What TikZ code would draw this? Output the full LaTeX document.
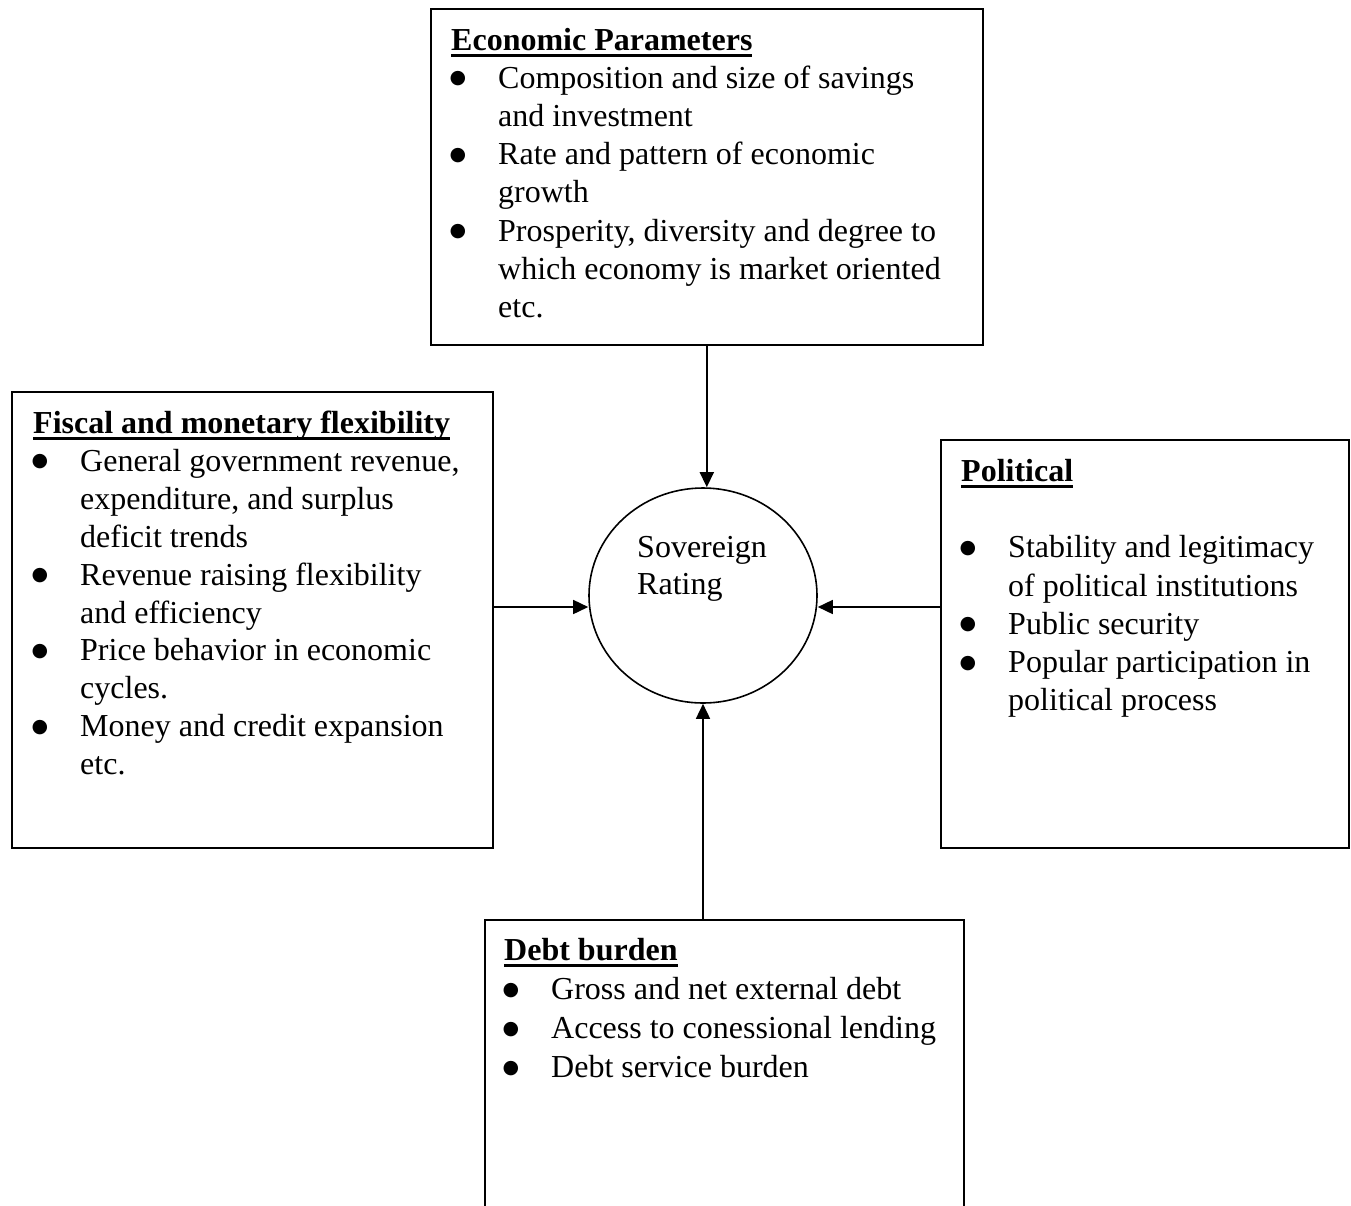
\documentclass[tikz,border=0pt]{standalone}
\usepackage{fontspec}
\setmainfont{Liberation Serif}
\newfontfamily\symfont{DejaVu Sans}
\usetikzlibrary{arrows.meta,shapes.geometric}

% bold underlined heading
\newcommand\boxtitle[1]{\setbox0\hbox{\bfseries #1}\rlap{\rule[-6.5pt]{\wd0}{3pt}}\box0}
% bullet line and continuation line
\newcommand\bigdot{\raisebox{4.5pt}{\symfont\fontsize{19pt}{19pt}\selectfont ●}}
\newcommand\bitem[1]{\hbox{\hspace*{-1.5pt}\makebox[48.5pt][l]{\bigdot}#1}}
\newcommand\bcont[1]{\hbox{\hspace*{47pt}#1}}
\newcommand\blank{\hbox{\strut}}

\begin{document}
\begin{tikzpicture}[x=1pt,y=-1pt,
  panel/.style={draw,line width=1.6pt,rectangle,anchor=north west,inner sep=0pt},
  body/.style={anchor=base west,inner sep=0pt,font=\fontsize{32pt}{38pt}\selectfont},
  arr/.style={line width=1.6pt,-{Triangle[length=15pt,width=14pt]}}]
\useasboundingbox (0,0) rectangle (1351,1205);
\clip (0,0) rectangle (1351,1205);

% boxes
\node[panel,minimum width=552pt,minimum height=336pt] (econ) at (430,8) {};
\node[panel,minimum width=481pt,minimum height=456pt] (fiscal) at (11,391) {};
\node[panel,minimum width=408pt,minimum height=408pt] (pol) at (940,439) {};
\node[panel,minimum width=479pt,minimum height=310pt] (debt) at (484,919) {};

% centre ellipse
\node[draw,ellipse,line width=1.6pt,minimum width=228pt,minimum height=215pt,inner sep=0pt] (rating) at (703,595.5) {};
\node[body] (ratingtxt) at (637,557) {\vtop{\baselineskip=37pt\hbox{Sovereign}\hbox{Rating}}};

% box texts
\node[body] (econtxt) at (451,50) {\vtop{\baselineskip=38.2pt
  \hbox{\boxtitle{Economic Parameters}}
  \bitem{Composition and size of savings}
  \bcont{and investment}
  \bitem{Rate and pattern of economic}
  \bcont{growth}
  \bitem{Prosperity, diversity and degree to}
  \bcont{which economy is market oriented}
  \bcont{etc.}}};

\node[body] (fiscaltxt) at (33,433.5) {\vtop{\baselineskip=37.9pt
  \hbox{\boxtitle{Fiscal and monetary flexibility}}
  \bitem{General government revenue,}
  \bcont{expenditure, and surplus}
  \bcont{deficit trends}
  \bitem{Revenue raising flexibility}
  \bcont{and efficiency}
  \bitem{Price behavior in economic}
  \bcont{cycles.}
  \bitem{Money and credit expansion}
  \bcont{etc.}}};

\node[body] (poltxt) at (961,481.5) {\vtop{\baselineskip=38.2pt
  \hbox{\boxtitle{Political}}
  \blank
  \bitem{Stability and legitimacy}
  \bcont{of political institutions}
  \bitem{Public security}
  \bitem{Popular participation in}
  \bcont{political process}}};

\node[body] (debttxt) at (504,960.5) {\vtop{\baselineskip=39pt
  \hbox{\boxtitle{Debt burden}}
  \bitem{Gross and net external debt}
  \bitem{Access to conessional lending}
  \bitem{Debt service burden}}};

% connectors
\draw[arr] (econ.south) -- (econ.south |- rating.north);
\draw[arr] (fiscal.east |- 0,607) -- (rating.west |- 0,607);
\draw[arr] (pol.west |- 0,607) -- (rating.east |- 0,607);
\draw[arr] (rating.south |- debt.north) -- (rating.south);
\end{tikzpicture}
\end{document}
